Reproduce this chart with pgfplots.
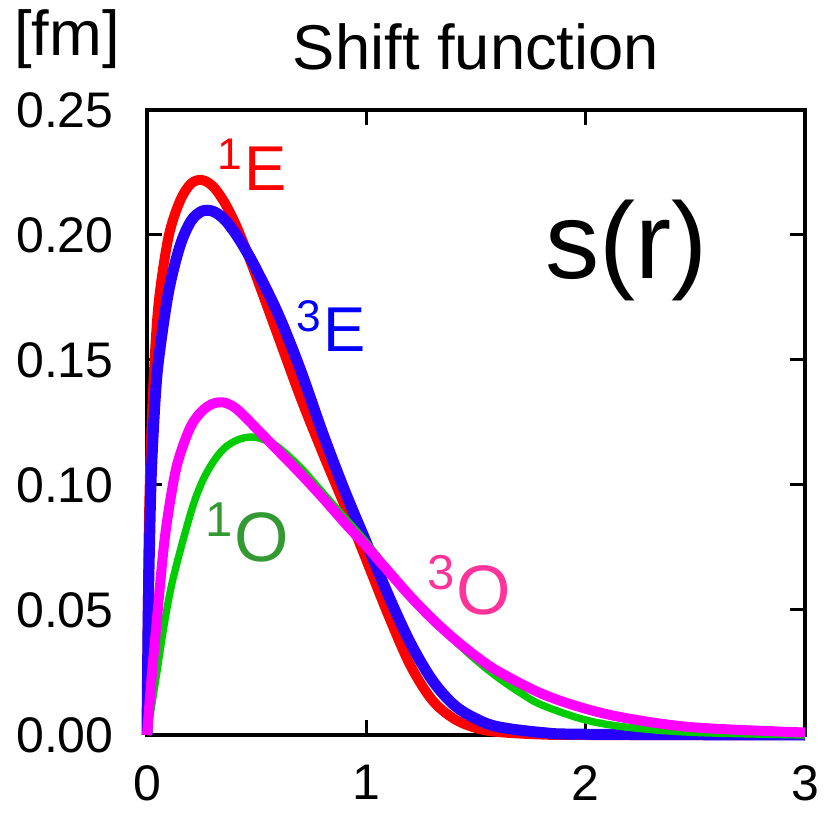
\documentclass[border=0pt]{standalone}
\usepackage{fontspec}
\setmainfont{Liberation Sans}
\usepackage{pgfplots}
\pgfplotsset{compat=1.18}
\definecolor{cRed}{RGB}{255,0,0}
\definecolor{cBlue}{RGB}{40,0,255}
\definecolor{cGreen}{RGB}{0,204,0}
\definecolor{cMag}{RGB}{255,0,255}
\definecolor{lGreen}{RGB}{51,153,51}
\definecolor{lPink}{RGB}{255,51,153}
\definecolor{lBlue}{RGB}{0,0,255}
\begin{document}
\begin{tikzpicture}[x=1pt,y=1pt]
\useasboundingbox (-44.1,-23.1) rectangle (204.6,220.5);
\begin{axis}[at={(0,0)}, anchor=south west, scale only axis,
  width=197.4pt, height=187.5pt,
  xmin=0, xmax=3, ymin=0, ymax=0.25,
  xtick={0,1,2,3}, ytick={0,0.05,0.10,0.15,0.20,0.25},
  tick align=inside, xtick pos=both, ytick pos=both,
  major tick length=4.5pt,
  axis line style={line width=1.2pt},
  every tick/.style={black, line width=0.9pt},
  tick label style={font=\fontsize{15}{15}\selectfont},
  /pgf/number format/assume math mode=true,
  y tick label style={/pgf/number format/fixed, /pgf/number format/fixed zerofill, /pgf/number format/precision=2, xshift=-6.5pt},
  x tick label style={yshift=-5.5pt},
  clip=false,
]
\addplot[cRed, line width=3pt, smooth, tension=0.55] coordinates {
(0,0) (0.005,0.06) (0.01,0.09) (0.02,0.122) (0.04,0.158) (0.06,0.178)
(0.1,0.200) (0.15,0.2135) (0.2,0.2205) (0.25,0.222) (0.3,0.2195) (0.35,0.2135)
(0.4,0.205) (0.45,0.1945) (0.5,0.183) (0.6,0.159) (0.7,0.135) (0.8,0.113)
(0.9,0.092) (1.0,0.070) (1.1,0.048) (1.2,0.028) (1.3,0.014) (1.4,0.0065)
(1.5,0.0028) (1.6,0.0012) (1.8,0.0002) (2.0,0) (3.0,0)};
\addplot[cBlue, line width=3.3pt, smooth, tension=0.55] coordinates {
(0,0) (0.005,0.045) (0.01,0.07) (0.02,0.105) (0.04,0.138) (0.06,0.155)
(0.1,0.178) (0.15,0.1955) (0.2,0.2055) (0.25,0.2095) (0.3,0.2095) (0.35,0.2065)
(0.4,0.201) (0.45,0.194) (0.5,0.186) (0.6,0.168) (0.7,0.146) (0.8,0.121)
(0.9,0.098) (1.0,0.077) (1.1,0.056) (1.2,0.037) (1.3,0.022) (1.4,0.012)
(1.5,0.0065) (1.6,0.0033) (1.8,0.001) (2.0,0.0003) (3.0,0)};
\addplot[cGreen, line width=2.2pt, smooth, tension=0.55] coordinates {
(0,0) (0.02,0.011) (0.045,0.025) (0.08,0.045) (0.12,0.063) (0.2,0.089)
(0.25,0.101) (0.3,0.109) (0.35,0.1145) (0.4,0.1175) (0.45,0.119) (0.5,0.119)
(0.55,0.1175) (0.6,0.115) (0.7,0.107) (0.8,0.097) (0.9,0.087) (1.0,0.077)
(1.1,0.066) (1.2,0.056) (1.3,0.047) (1.4,0.038) (1.5,0.030) (1.6,0.023)
(1.7,0.017) (1.8,0.012) (2.0,0.006) (2.2,0.003) (2.5,0.001) (3.0,0)};
\addplot[cMag, line width=3pt, smooth, tension=0.55] coordinates {
(0,0) (0.02,0.022) (0.045,0.046) (0.08,0.078) (0.12,0.101) (0.15,0.112)
(0.2,0.1235) (0.25,0.1295) (0.3,0.1325) (0.35,0.133) (0.4,0.131) (0.45,0.127)
(0.5,0.1225) (0.55,0.118) (0.6,0.1135) (0.7,0.1045) (0.8,0.095) (0.9,0.085)
(1.0,0.0755) (1.1,0.0655) (1.2,0.0555) (1.3,0.0465) (1.4,0.0385) (1.5,0.0315)
(1.6,0.0255) (1.8,0.0165) (2.0,0.0105) (2.2,0.0065) (2.5,0.003) (3.0,0.001)};
\node[cRed, font=\fontsize{19}{19}\selectfont] at (axis cs:0.479,0.228) {\textsuperscript{1}E};
\node[lBlue, font=\fontsize{19}{19}\selectfont] at (axis cs:0.84,0.1636) {\textsuperscript{3}E};
\node[lGreen, font=\fontsize{21}{21}\selectfont] at (axis cs:0.455,0.081) {\textsuperscript{1}O};
\node[lPink, font=\fontsize{21}{21}\selectfont] at (axis cs:1.47,0.060) {\textsuperscript{3}O};
\node[black, font=\fontsize{32.5}{32.5}\selectfont] at (axis cs:2.185,0.194) {s(r)};
\node[anchor=base, font=\fontsize{19}{19}\selectfont, inner sep=0pt] at ([yshift=12pt]rel axis cs:0.5,1) {Shift function};
\node[anchor=base west, font=\fontsize{19}{19}\selectfont, inner sep=0pt] at ([xshift=-40pt,yshift=16.4pt]rel axis cs:0,1) {[fm]};
\end{axis}
\end{tikzpicture}
\end{document}
